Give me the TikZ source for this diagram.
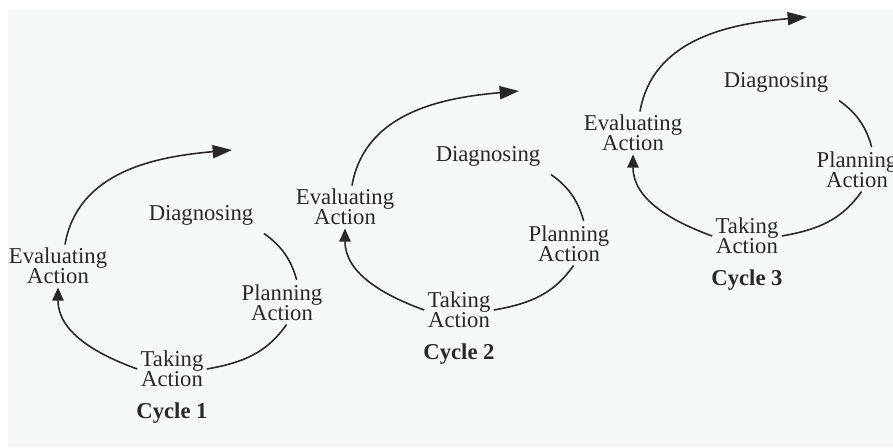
\documentclass[tikz,border=0pt]{standalone}
\usepackage{fontspec}
\setmainfont{Liberation Serif}
\usetikzlibrary{arrows.meta, calc}
\definecolor{bgcol}{RGB}{246,250,246}
\definecolor{ink}{RGB}{40,40,40}
\tikzset{
    phase/.style={align=center, inner sep=2pt, outer sep=0pt, text=ink, font=\fontsize{12.9}{11.4}\selectfont},
    cyclelabel/.style={text=ink, font=\fontsize{12.9}{11.4}\selectfont\bfseries},
    link/.style={draw=ink, line width=0.9pt},
    uparrow/.style={link, -{Triangle[length=7.5pt, width=6.5pt]}},
    outarrow/.style={link, -{Triangle[length=11pt, width=7.5pt]}}
}

\begin{document}
\begin{tikzpicture}[x=0.02cm, y=0.02cm]
    % Background
    \useasboundingbox (0,0) rectangle (893,-447);
    \fill[bgcol] (8,-10) rectangle (893,-447);

    % The three cycles, each shifted up and to the right
    \foreach \i/\dx/\dy in {1/0/0, 2/287/59, 3/575/133} {
    \begin{scope}[shift={(\dx,\dy)}]
        % Phases
        \node[phase] (eval\i) at (58,-266) {Evaluating\\Action};
        \node[phase] (diag\i) at (201,-215) {Diagnosing};
        \node[phase] (plan\i) at (282,-303) {Planning\\Action};
        \node[phase] (take\i) at (172,-369) {Taking\\Action};
        \node[cyclelabel] (label\i) at (172,-413) {Cycle \i};
        \coordinate (next\i) at (232,-150);

        % Connections
        \draw[link, shorten <=5pt, shorten >=1pt] (diag\i.south east) to[out=-35, in=105] (plan\i.55);
        \draw[link] (plan\i.-78) to[out=-125, in=10] (take\i.east);
        \draw[uparrow] (take\i.west) to[out=160, in=-90] (eval\i.south);
        \draw[outarrow] (eval\i.72) to[out=80, in=185] (next\i);
    \end{scope}
    }
\end{tikzpicture}
\end{document}
